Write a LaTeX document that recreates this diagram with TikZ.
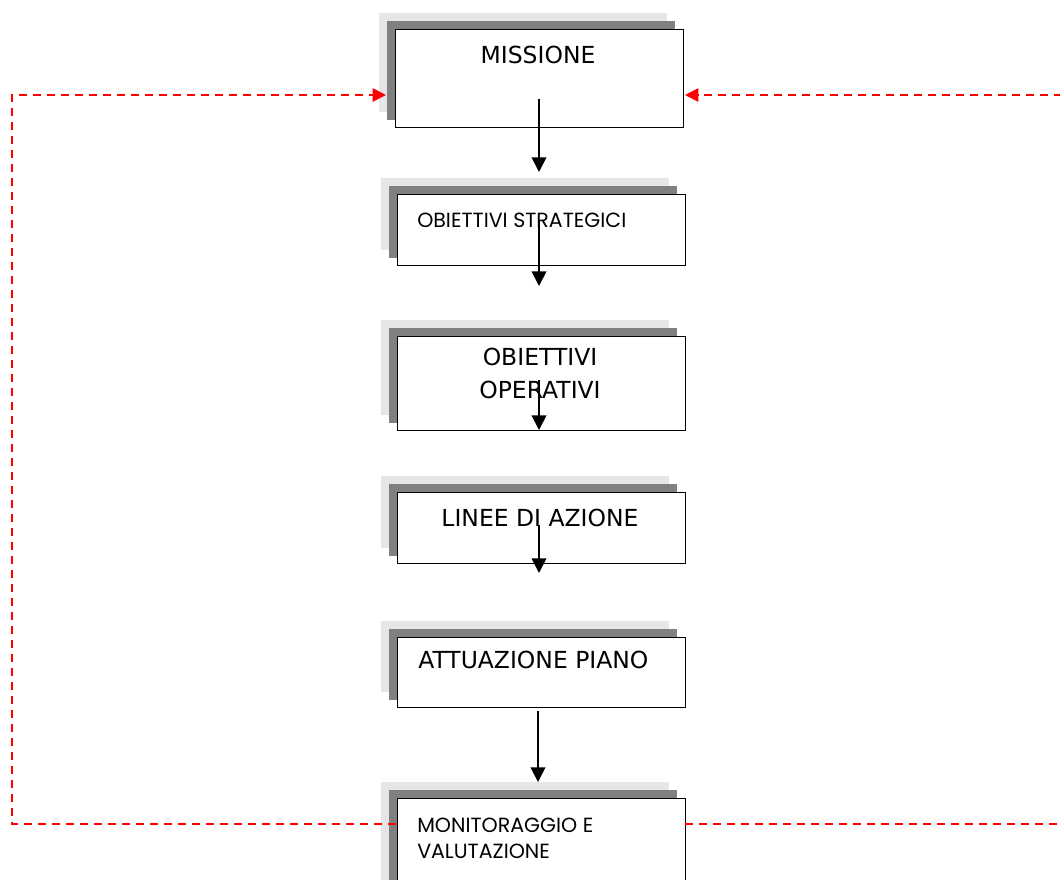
\documentclass[tikz,border=0pt]{standalone}
\usepackage{fontspec}
\newfontfamily\comicfont{DejaVu Sans}
\newfontfamily\gothicfont{Poppins}
\usetikzlibrary{shadows,arrows.meta}
\definecolor{shadowlight}{HTML}{E6E6E6}
\definecolor{shadowdark}{HTML}{808080}
\definecolor{dashred}{HTML}{FF0000}
\begin{document}
\begin{tikzpicture}[x=0.75pt,y=-0.75pt,
  box/.style={draw=black, line width=1.4pt, fill=white, inner sep=0pt,
    minimum width=216pt, minimum height={#1*0.75pt-0.7pt}, anchor=north west,
    copy shadow={shadow xshift=-12pt, shadow yshift=12pt, fill=shadowlight, draw=none},
    copy shadow={shadow xshift=-6pt, shadow yshift=6pt, fill=shadowdark, draw=none}},
  comic/.style={font=\comicfont\fontsize{17.6pt}{20pt}\selectfont, inner sep=0pt},
  gothic/.style={font=\gothicfont\fontsize{15.4pt}{18pt}\selectfont, inner sep=0pt},
  arr/.style={draw=black, line width=1.3pt, -{Triangle[length=11pt,width=11pt]}},
  fb/.style={draw=dashred, line width=1.4pt, dash pattern=on 6pt off 4.5pt},
  fbarr/.style={fb, -{Triangle[length=10pt,width=10pt]}}]
\useasboundingbox (0,0) rectangle (1060,879);
% boxes
\node[box=99] (b1) at (394.5,28.5) {};
\node[box=72] (b2) at (396.5,193.5) {};
\node[box=95] (b3) at (396.5,335.5) {};
\node[box=72] (b4) at (396.5,491.5) {};
\node[box=71] (b5) at (396.5,636.5) {};
\node[box=100] (b6) at (396.5,797.5) {};
% texts
\node[comic, anchor=base] (t1) at (538,63) {MISSIONE};
\node[gothic, anchor=base west] (t2) at (417,227) {OBIETTIVI STRATEGICI};
\node[comic, anchor=base] (t3a) at (540,365) {OBIETTIVI};
\node[comic, anchor=base] (t3b) at (540,398) {OPERATIVI};
\node[comic, anchor=base] (t4) at (540,526) {LINEE DI AZIONE};
\node[comic, anchor=base west] (t5) at (418,668) {ATTUAZIONE PIANO};
\node[gothic, anchor=base west] (t6a) at (417,832) {MONITORAGGIO E};
\node[gothic, anchor=base west] (t6b) at (417,858) {VALUTAZIONE};
% arrow ends
\coordinate (a1s) at (539,99);  \coordinate (a1e) at (539,172);
\coordinate (a2s) at (539,220); \coordinate (a2e) at (539,286);
\coordinate (a3s) at (539,380); \coordinate (a3e) at (539,430);
\coordinate (a4s) at (539,525); \coordinate (a4e) at (539,573);
\coordinate (a5s) at (538,711); \coordinate (a5e) at (538,782);
\draw[arr] (a1s) -- (a1e);
\draw[arr] (a2s) -- (a2e);
\draw[arr] (a3s) -- (a3e);
\draw[arr] (a4s) -- (a4e);
\draw[arr] (a5s) -- (a5e);
% feedback loops
\coordinate (lb) at (396,824); \coordinate (lc1) at (12,824);
\coordinate (lc2) at (12,95);  \coordinate (la) at (386,95);
\coordinate (rb) at (685,824); \coordinate (rbe) at (1062,824);
\coordinate (rts) at (1062,95); \coordinate (ra) at (685,95);
\draw[fbarr] (lb) -- (lc1) -- (lc2) -- (la);
\draw[fb] (rb) -- (rbe);
\draw[fbarr] (rts) -- (ra);
\end{tikzpicture}
\end{document}
